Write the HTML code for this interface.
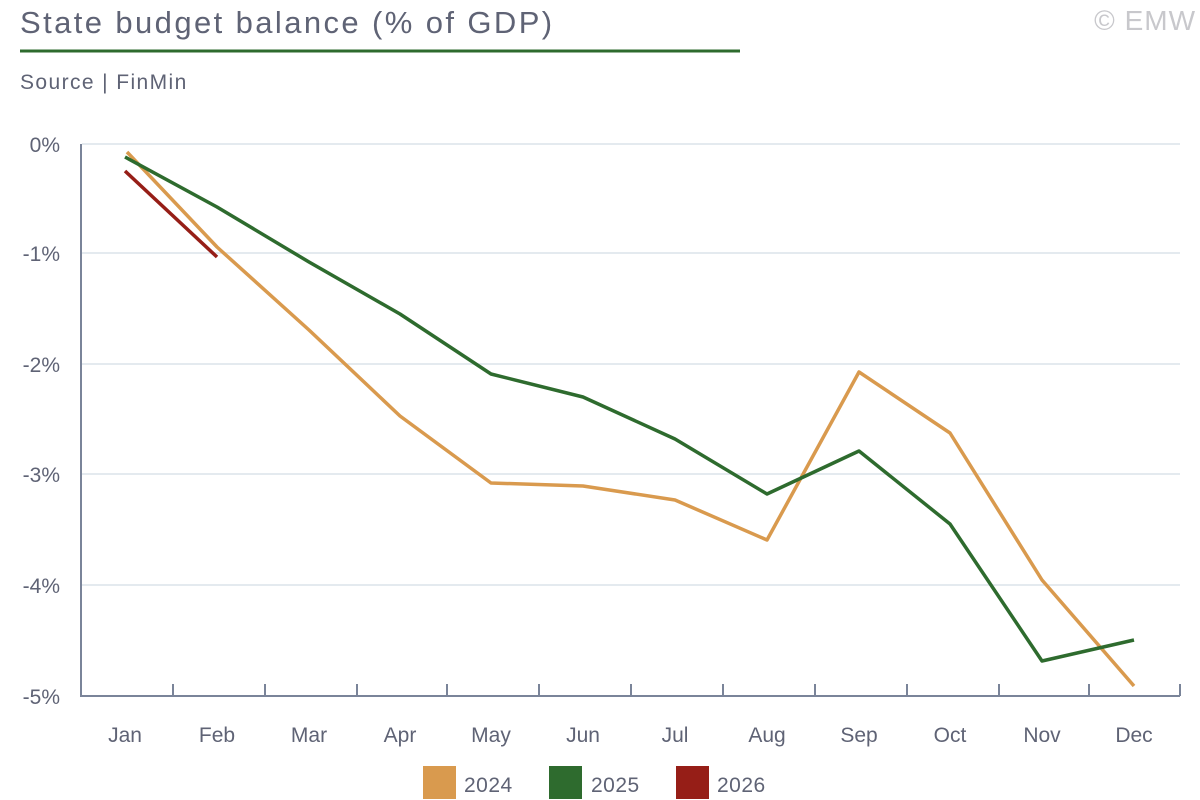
<!DOCTYPE html>
<html><head><style>body{margin:0;background:#fff}svg{display:block}text{font-family:"Liberation Sans",sans-serif;fill:#5f6375}</style></head><body>
<svg width="1200" height="800" viewBox="0 0 1200 800">
<text x="20" y="33" font-size="31" letter-spacing="2.4">State budget balance (% of GDP)</text>
<text x="1196" y="30" font-size="28" text-anchor="end" letter-spacing="1" style="fill:#c8c8cc">© EMW</text>
<rect x="20" y="49.5" width="720" height="3" fill="#2e6b2e"/>
<text x="20" y="89" font-size="21" letter-spacing="1.4">Source | FinMin</text>
<g stroke="#dce3ea" stroke-width="1.5">
<line x1="82" y1="144" x2="1180" y2="144"/><line x1="82" y1="253" x2="1180" y2="253"/><line x1="82" y1="364" x2="1180" y2="364"/><line x1="82" y1="474" x2="1180" y2="474"/><line x1="82" y1="585" x2="1180" y2="585"/>
</g>
<g stroke="#7a8499" stroke-width="2" fill="none">
<polyline points="81,144 81,696 1180,696"/>
<path d="M173,684V696M265,684V696M357,684V696M447,684V696M539,684V696M631,684V696M723,684V696M815,684V696M907,684V696M999,684V696M1089,684V696M1180,684V696"/>
</g>
<g font-size="21" text-anchor="end">
<text x="60" y="152">0%</text><text x="60" y="261">-1%</text><text x="60" y="372">-2%</text><text x="60" y="482">-3%</text><text x="60" y="593">-4%</text><text x="60" y="704">-5%</text>
</g>
<g font-size="21" text-anchor="middle">
<text x="125" y="742">Jan</text><text x="217" y="742">Feb</text><text x="309" y="742">Mar</text><text x="400" y="742">Apr</text><text x="491" y="742">May</text><text x="583" y="742">Jun</text><text x="675" y="742">Jul</text><text x="767" y="742">Aug</text><text x="859" y="742">Sep</text><text x="950" y="742">Oct</text><text x="1042" y="742">Nov</text><text x="1134" y="742">Dec</text>
</g>
<g fill="none" stroke-width="3.5" stroke-linejoin="round">
<polyline stroke="#d99a4e" points="127,152 217,247 309,330 400,416 491,483 583,486 675,500 767,540 859,372 950,433 1042,580 1134,686"/>
<polyline stroke="#2e6b2e" points="125,157 217,207 309,262 400,314 491,374 583,397 675,439 767,494 859,451 950,524 1042,661 1134,640"/>
<polyline stroke="#961e17" points="125,171 217,257"/>
</g>
<rect x="423" y="766" width="33" height="33" fill="#d99a4e"/><text x="464" y="792" font-size="21" letter-spacing="0.5">2024</text>
<rect x="549" y="766" width="33" height="33" fill="#2e6b2e"/><text x="591" y="792" font-size="21" letter-spacing="0.5">2025</text>
<rect x="676" y="766" width="33" height="33" fill="#961e17"/><text x="717" y="792" font-size="21" letter-spacing="0.5">2026</text>
</svg>
</body></html>
